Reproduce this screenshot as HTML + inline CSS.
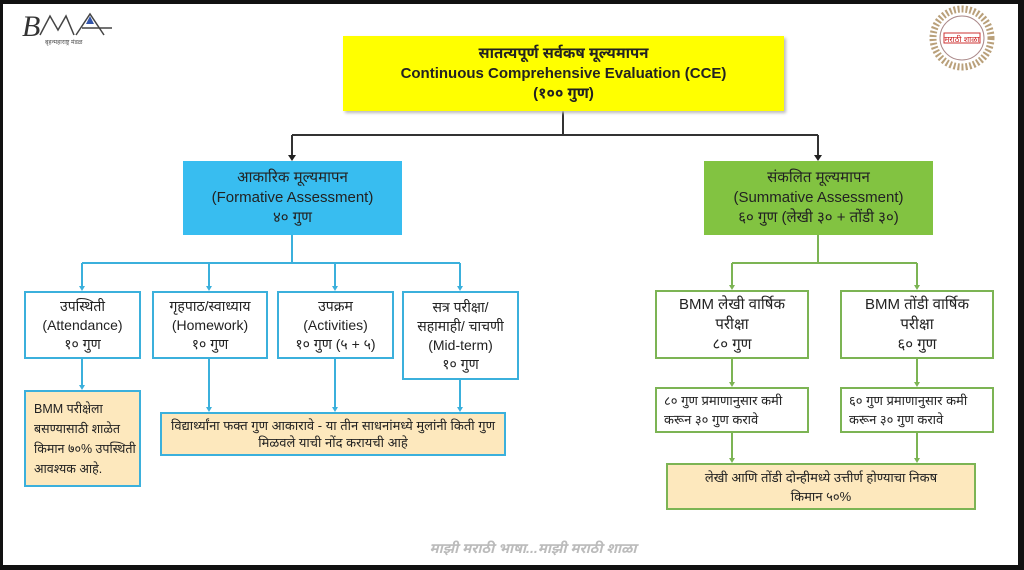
<!DOCTYPE html>
<html><head><meta charset="utf-8">
<style>
*{margin:0;padding:0;box-sizing:border-box}
body{width:1024px;height:570px;background:#111;position:relative;overflow:hidden;font-family:"Liberation Sans","Noto Sans Devanagari","Lohit Devanagari",sans-serif;color:#222}
#pg{position:absolute;left:3px;top:4px;width:1015px;height:561px;background:#fff}
.b{position:absolute;display:flex;flex-direction:column;justify-content:center;align-items:center;text-align:center;font-size:14px;line-height:19px;white-space:nowrap}
.w{background:#fff;border:2px solid #3bb0dc}
.g{background:#fff;border:2px solid #7cb454}
.n{background:#fde8bd}
svg{position:absolute;left:0;top:0}
</style></head><body>
<div id="pg"></div>
<svg width="1024" height="570">
<g stroke="#333" stroke-width="2" fill="none">
<path d="M563 111V135M292 135H818M292 135V158M818 135V158"/>
</g>
<path d="M288 155h8l-4 6z M814 155h8l-4 6z" fill="#222"/>
<g stroke="#3bb0dc" stroke-width="2" fill="none">
<path d="M292 235V263M82 263H460M82 263V289M209 263V289M335 263V289M460 263V289M82 358V388M209 358V410M335 358V410M460 379V410"/>
</g>
<path d="M79 286h6l-3 5z M206 286h6l-3 5z M332 286h6l-3 5z M457 286h6l-3 5z M79 385h6l-3 5z M206 407h6l-3 5z M332 407h6l-3 5z M457 407h6l-3 5z" fill="#3bb0dc"/>
<g stroke="#7cb454" stroke-width="2" fill="none">
<path d="M818 235V263M732 263H917M732 263V288M917 263V288M732 359V385M917 359V385M732 433V461M917 433V461"/>
</g>
<path d="M729 285h6l-3 5z M914 285h6l-3 5z M729 382h6l-3 5z M914 382h6l-3 5z M729 458h6l-3 5z M914 458h6l-3 5z" fill="#7cb454"/>
<circle cx="962" cy="38" r="29" fill="none" stroke="#b9a07a" stroke-width="7" stroke-dasharray="2 2"/>
<circle cx="962" cy="38" r="22" fill="#fff" stroke="#a88" stroke-width="1"/>
<rect x="944" y="33" width="36" height="10" fill="#fff" stroke="#c33" stroke-width="1"/>
<text x="962" y="42" font-size="8" fill="#c22" text-anchor="middle">मराठी शाळा</text>
<text x="22" y="36" font-size="30" font-family="Liberation Serif" font-style="italic" fill="#333">B</text>
<path d="M40 35 L50 16 L58 30 L66 16 L74 35 M76 35 L90 14 L104 35 M82 28 L112 28" stroke="#444" stroke-width="1.5" fill="none"/>
<path d="M86 24 l4 -8 l4 8z" fill="#3355aa"/>
<text x="45" y="44" font-size="6" fill="#555">बृहन्महाराष्ट्र मंडळ</text>
</svg>
<div class="b" style="left:343px;top:36px;width:441px;height:75px;background:#ffff00;font-weight:bold;font-size:15px;line-height:20px;box-shadow:2px 2px 3px #bbb">
<div>सातत्यपूर्ण सर्वकष मूल्यमापन</div><div>Continuous Comprehensive Evaluation (CCE)</div><div>(१०० गुण)</div></div>
<div class="b" style="left:183px;top:161px;width:219px;height:74px;background:#38bdf0;font-size:15px;line-height:20px">
<div>आकारिक मूल्यमापन</div><div>(Formative Assessment)</div><div>४० गुण</div></div>
<div class="b" style="left:704px;top:161px;width:229px;height:74px;background:#82c341;font-size:15px;line-height:20px">
<div>संकलित मूल्यमापन</div><div>(Summative Assessment)</div><div>६० गुण (लेखी ३० + तोंडी ३०)</div></div>
<div class="b w" style="left:24px;top:291px;width:117px;height:68px"><div>उपस्थिती</div><div>(Attendance)</div><div>१० गुण</div></div>
<div class="b w" style="left:152px;top:291px;width:116px;height:68px"><div>गृहपाठ/स्वाध्याय</div><div>(Homework)</div><div>१० गुण</div></div>
<div class="b w" style="left:277px;top:291px;width:117px;height:68px"><div>उपक्रम</div><div>(Activities)</div><div>१० गुण (५ + ५)</div></div>
<div class="b w" style="left:402px;top:291px;width:117px;height:89px"><div>सत्र परीक्षा/</div><div>सहामाही/ चाचणी</div><div>(Mid-term)</div><div>१० गुण</div></div>
<div class="b w n" style="left:24px;top:390px;width:117px;height:97px;align-items:flex-start;text-align:left;padding-left:8px;font-size:12.5px;line-height:20px"><div>BMM परीक्षेला</div><div>बसण्यासाठी शाळेत</div><div>किमान ७०% उपस्थिती</div><div>आवश्यक आहे.</div></div>
<div class="b w n" style="left:160px;top:412px;width:346px;height:44px;font-size:13px;line-height:17px"><div>विद्यार्थ्यांना फक्त गुण आकारावे - या तीन साधनांमध्ये मुलांनी किती गुण</div><div>मिळवले याची नोंद करायची आहे</div></div>
<div class="b g" style="left:655px;top:290px;width:154px;height:69px;font-size:15px;line-height:20px"><div>BMM लेखी वार्षिक</div><div>परीक्षा</div><div>८० गुण</div></div>
<div class="b g" style="left:840px;top:290px;width:154px;height:69px;font-size:15px;line-height:20px"><div>BMM तोंडी वार्षिक</div><div>परीक्षा</div><div>६० गुण</div></div>
<div class="b g" style="left:655px;top:387px;width:154px;height:46px;font-size:13px;align-items:flex-start;text-align:left;padding-left:7px"><div>८० गुण प्रमाणानुसार कमी</div><div>करून ३० गुण करावे</div></div>
<div class="b g" style="left:840px;top:387px;width:154px;height:46px;font-size:13px;align-items:flex-start;text-align:left;padding-left:7px"><div>६० गुण प्रमाणानुसार कमी</div><div>करून ३० गुण करावे</div></div>
<div class="b g n" style="left:666px;top:463px;width:310px;height:47px;font-size:13px"><div>लेखी आणि तोंडी दोन्हीमध्ये उत्तीर्ण होण्याचा निकष</div><div>किमान ५०%</div></div>
<div style="position:absolute;left:412px;top:540px;width:242px;text-align:center;font-size:14px;font-style:italic;font-weight:bold;color:#bbb">माझी मराठी भाषा...माझी मराठी शाळा</div>
</body></html>
